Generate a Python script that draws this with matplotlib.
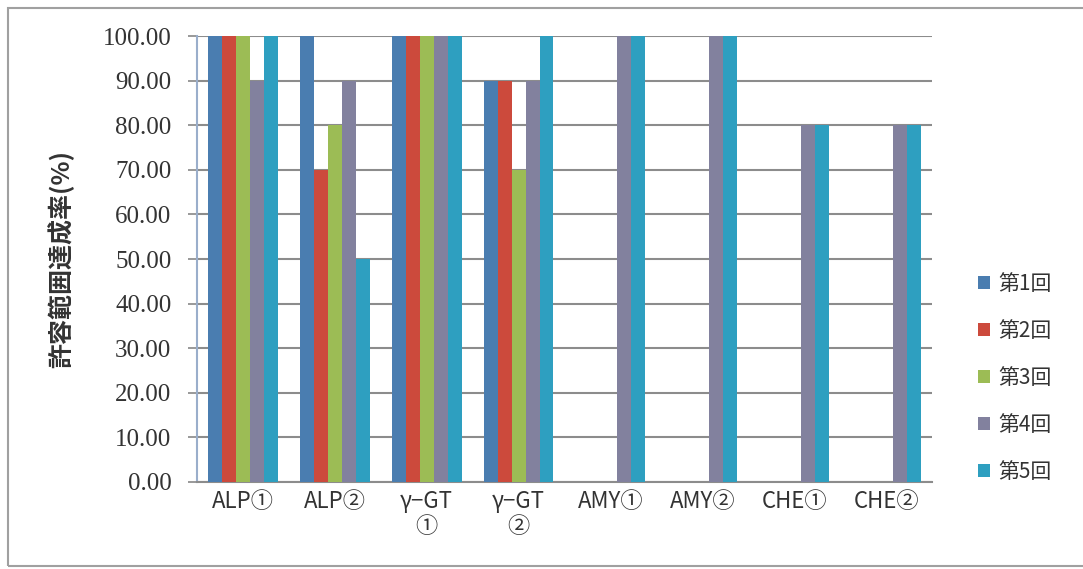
import numpy as np
import matplotlib
matplotlib.use('Agg')
import matplotlib.pyplot as plt
from matplotlib.patches import Rectangle

plt.rcParams['font.family'] = ['Noto Sans CJK JP', 'DejaVu Sans']

# data (達成率 %)
categories = ['ALP①', 'ALP②', 'γ−GT\n①', 'γ−GT\n②',
              'AMY①', 'AMY②', 'CHE①', 'CHE②']
series_names = ['第1回', '第2回', '第3回', '第4回', '第5回']
round1 = [100, 100, 100, 90, 0, 0, 0, 0]
round2 = [100, 70, 100, 90, 0, 0, 0, 0]
round3 = [100, 80, 100, 70, 0, 0, 0, 0]
round4 = [90, 90, 100, 90, 100, 100, 80, 80]
round5 = [100, 50, 100, 100, 100, 100, 80, 80]
yticks = np.arange(0, 101, 10)

colors = ['#4a7db0', '#cc4a3c', '#9cbc55', '#82819e', '#2e9fc0']

fig = plt.figure(figsize=(10.83, 5.69), dpi=100)
ax = fig.add_axes([0.1819, 0.1529, 0.6787, 0.7838])

# outer frame like the pasted Excel chart
fig.patches.append(Rectangle((8 / 1083, 3 / 569), 1.1, 558 / 569,
                             transform=fig.transFigure, fill=False,
                             edgecolor='#a0a0a0', linewidth=1.5))

x = np.arange(len(categories))
w = 0.152
allvals = [round1, round2, round3, round4, round5]
for j, vals in enumerate(allvals):
    ax.bar(x + (j - 2) * w, vals, width=w, color=colors[j],
           label=series_names[j], zorder=3)

ax.set_xlim(-0.5, len(categories) - 0.5)
ax.set_ylim(0, 100)
ax.set_yticks(yticks)
ax.set_yticklabels(['%.2f' % v for v in yticks], family='Liberation Serif',
                   fontsize=18, color='#333333')
ax.set_xticks(x)
ax.set_xticklabels(categories, fontsize=16, color='#333333', linespacing=1.1)
ax.tick_params(axis='x', length=0, pad=6)
ax.tick_params(axis='y', length=6.5, width=1.2, color='#888888', pad=12)
ax.yaxis.grid(True, color='#8c8c8c', linewidth=1.5, zorder=0)
ax.set_axisbelow(True)
for s in ['top', 'right']:
    ax.spines[s].set_visible(False)
ax.spines['left'].set_color('#9aaecb')
ax.spines['left'].set_linewidth(1.5)
ax.spines['bottom'].set_color('#8c8c8c')
ax.spines['bottom'].set_linewidth(1.5)

ax.set_ylabel('許容範囲達成率(%)', fontsize=18, fontweight='bold',
              color='#333333', labelpad=20)

fig.legend(loc='center left', bbox_to_anchor=(0.895, 0.336), frameon=False,
           fontsize=15, handlelength=0.6, handleheight=0.6, handletextpad=0.4,
           labelspacing=1.2, borderaxespad=0, labelcolor='#333333')

fig.savefig('out.png', dpi=100)
